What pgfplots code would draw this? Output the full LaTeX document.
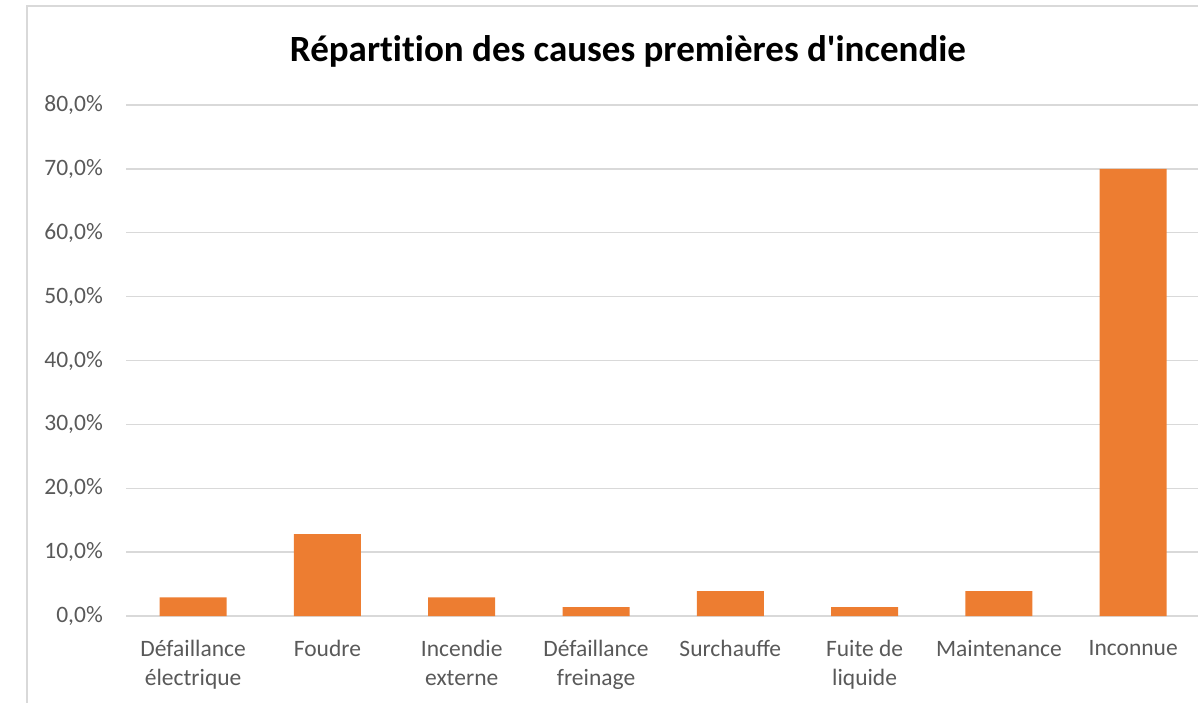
\documentclass[border=0pt]{standalone}
\usepackage{fontspec}
\setmainfont{Carlito}
\usepackage{pgfplots}
\pgfplotsset{compat=1.18}
\definecolor{barorange}{HTML}{ED7D31}
\definecolor{gridgray}{HTML}{D9D9D9}
\definecolor{textgray}{HTML}{595959}
\begin{document}
\begin{tikzpicture}[x=1pt,y=1pt]
\path[use as bounding box] (0,0) rectangle (1198,702);
\draw[gridgray, line width=1.5pt] (27,-5) -- (27,696) -- (1210,696);
\node[font=\fontsize{37}{44}\selectfont\bfseries\addfontfeatures{Ligatures=NoCommon}, text=black, anchor=base, inner sep=0pt] at (628,640) {Répartition des causes premières d\textquotesingle incendie};
\begin{axis}[
  at={(126pt,86pt)}, anchor=south west, scale only axis,
  width=1074.4pt, height=511pt,
  xmin=-0.5, xmax=7.5, ymin=0, ymax=80,
  ytick={0,10,...,80},
  xtick={0,...,7},
  xticklabels={{Défaillance\\électrique},{Foudre},{Incendie\\externe},{Défaillance\\freinage},{Surchauffe},{Fuite de\\liquide},{Maintenance},{Inconnue}},
  major tick length=0pt,
  axis line style={draw=none},
  ymajorgrids,
  grid style={gridgray, line width=1.5pt},
  /pgf/number format/assume math mode=true,
  yticklabel={\pgfmathprintnumber[fixed, fixed zerofill, precision=1, use comma]{\tick}\%},
  yticklabel style={font=\fontsize{23.5}{29}\selectfont, text=textgray, anchor=east, inner sep=0pt, xshift=-23pt},
  xticklabel style={font=\fontsize{23.5}{29}\selectfont, text=textgray, align=center, anchor=north, inner sep=0pt, yshift=-24pt},
  clip=false,
]
\addplot[ybar, bar width=67pt, fill=barorange, draw=none] coordinates {
  (0,2.9) (1,12.8) (2,2.9) (3,1.4) (4,3.9) (5,1.4) (6,3.9) (7,70.0)
};
\end{axis}
\end{tikzpicture}
\end{document}
